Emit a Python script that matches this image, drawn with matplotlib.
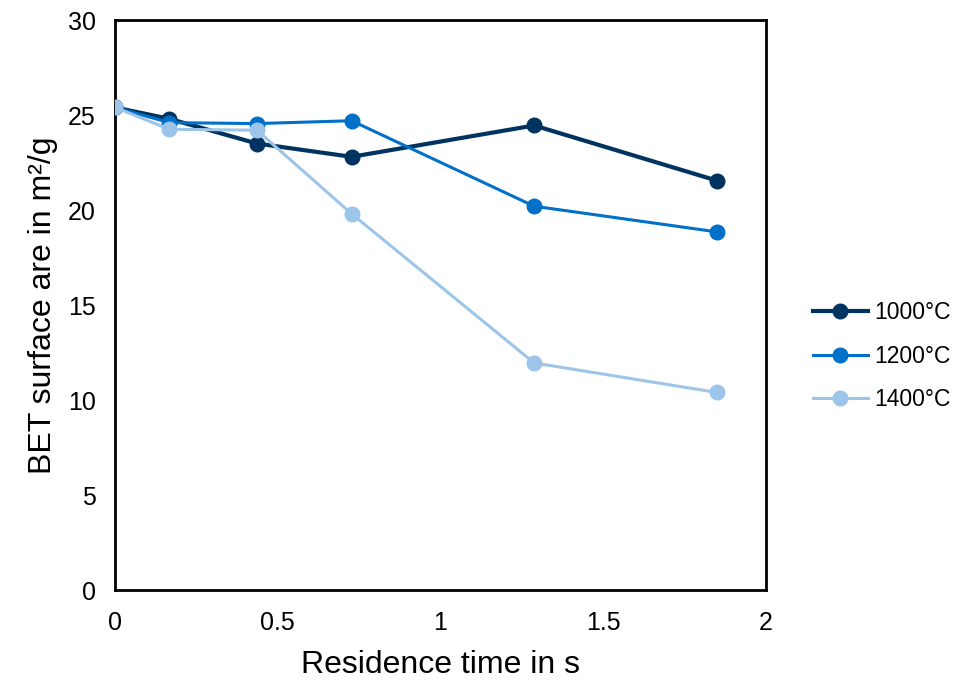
import matplotlib.pyplot as plt

plt.rcParams['font.family'] = ['Liberation Sans', 'DejaVu Sans']

# Residence time (s) and BET surface area (m²/g)
times = [0, 0.167, 0.436, 0.727, 1.288, 1.849]
bet_1000 = [25.4, 24.8, 23.5, 22.8, 24.45, 21.55]
bet_1200 = [25.4, 24.6, 24.55, 24.7, 20.2, 18.85]
bet_1400 = [25.4, 24.25, 24.2, 19.8, 11.95, 10.4]

fig = plt.figure(figsize=(9.55, 6.81), dpi=100)
ax = fig.add_axes([0.1204, 0.1336, 0.6816, 0.837])

ax.plot(times, bet_1000, color='#003360', lw=3, marker='o', ms=10.5, label='1000°C', zorder=3)
ax.plot(times, bet_1200, color='#0070C9', lw=2.2, marker='o', ms=10.5, label='1200°C', zorder=3)
ax.plot(times, bet_1400, color='#9DC5EA', lw=2.2, marker='o', ms=10.5, label='1400°C', zorder=3)

ax.set_xlim(0, 2)
ax.set_ylim(0, 30)
ax.set_xticks([0, 0.5, 1, 1.5, 2])
ax.set_xticklabels(['0', '0.5', '1', '1.5', '2'])
ax.set_yticks(range(0, 31, 5))
ax.tick_params(length=0, labelsize=18)
ax.tick_params(axis='x', pad=15)
ax.tick_params(axis='y', pad=14)
for s in ax.spines.values():
    s.set_linewidth(2)
    s.set_color('black')
for lab in ax.get_xticklabels() + ax.get_yticklabels():
    lab.set_clip_on(False)

ax.set_xlabel('Residence time in s', fontsize=23, labelpad=11)
ax.set_ylabel('BET surface are in m²/g', fontsize=23, labelpad=7)

ax.legend(loc='center left', bbox_to_anchor=(1.072, 0.41), frameon=False,
          fontsize=16.5, handlelength=2.4, labelspacing=0.9, handletextpad=0.27,
          borderpad=0, borderaxespad=0)

fig.savefig('out.png', dpi=100)
